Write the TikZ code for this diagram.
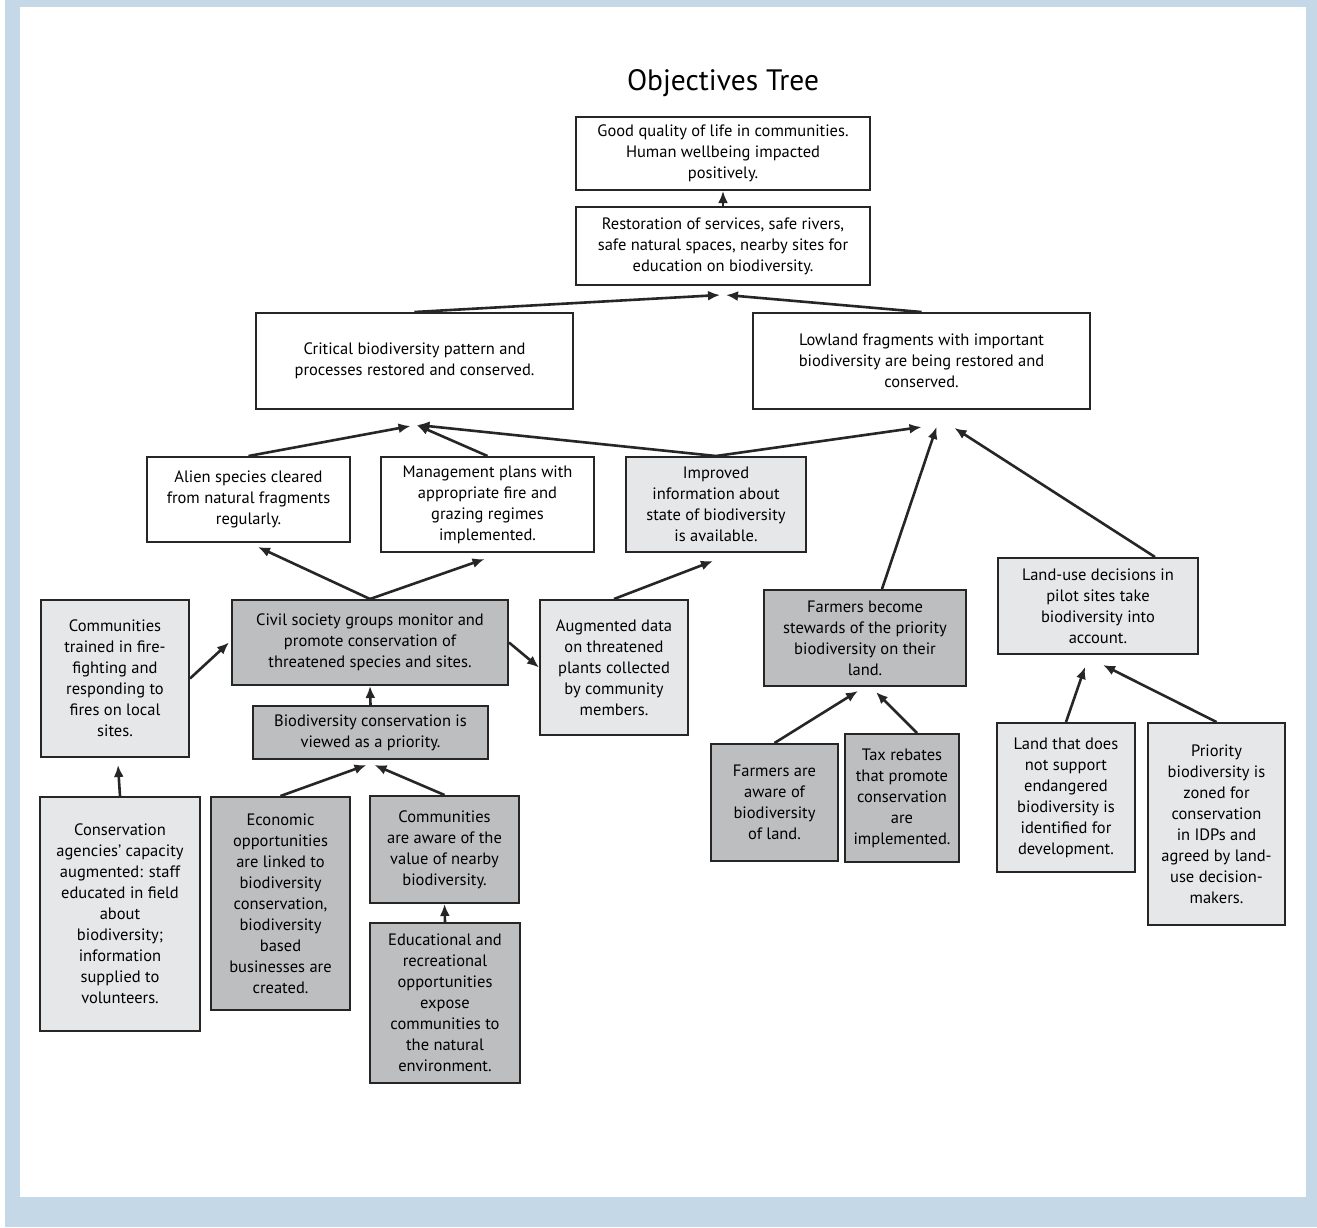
\documentclass[tikz,border=0pt]{standalone}
\usepackage{fontspec}
\setmainfont{PT Sans}
\usetikzlibrary{arrows.meta}
\definecolor{frameblue}{HTML}{C5D8E7}
\definecolor{lightbox}{HTML}{E6E7E8}
\definecolor{darkbox}{HTML}{BCBEC0}
\begin{document}
\begin{tikzpicture}[x=1pt,y=-1pt,
  box/.style={draw=black!85,line width=2pt,align=center,inner sep=0pt,
    font=\fontsize{16.5}{21}\selectfont},
  lite/.style={box,fill=lightbox},
  dark/.style={box,fill=darkbox},
  arr/.style={-{Latex[length=12pt,width=10pt]},line width=2.6pt,draw=black!85}]
\fill[white] (0,0) rectangle (1317,1227);
\fill[frameblue] (5,0) rectangle (1317,1227);
\fill[white] (20,7) rectangle (1306,1197);

\node[font=\fontsize{29.5}{32}\selectfont] (title) at (723,83) {Objectives Tree};

\node[box,minimum width=294pt,minimum height=73pt] (goal) at (723,153.5)
  {Good quality of life in communities.\\Human wellbeing impacted\\positively.};
\node[box,minimum width=294pt,minimum height=78pt] (restore) at (723,246)
  {Restoration of services, safe rivers,\\safe natural spaces, nearby sites for\\education on biodiversity.};
\node[box,minimum width=317pt,minimum height=96pt] (crit) at (414.5,361)
  {Critical biodiversity pattern and\\processes restored and conserved.};
\node[box,minimum width=337pt,minimum height=96pt] (lowland) at (921.5,361)
  {Lowland fragments with important\\biodiversity are being restored and\\conserved.};

\node[box,minimum width=203pt,minimum height=85pt] (alien) at (248.5,499.5)
  {Alien species cleared\\from natural fragments\\regularly.};
\node[box,minimum width=213pt,minimum height=95pt] (mgmt) at (487.5,504.5)
  {Management plans with\\appropriate fire and\\grazing regimes\\implemented.};
\node[lite,minimum width=180pt,minimum height=95pt] (improved) at (716,504.5)
  {Improved\\information about\\state of biodiversity\\is available.};

\node[lite,minimum width=148pt,minimum height=157pt] (trained) at (115,678.5)
  {Communities\\trained in fire-\\fighting and\\responding to\\fires on local\\sites.};
\node[dark,minimum width=276pt,minimum height=85pt] (civil) at (370,642.5)
  {Civil society groups monitor and\\promote conservation of\\threatened species and sites.};
\node[lite,minimum width=148pt,minimum height=135pt] (augmented) at (614,667.5)
  {Augmented data\\on threatened\\plants collected\\by community\\members.};
\node[dark,minimum width=202pt,minimum height=96pt] (stewards) at (865,638)
  {Farmers become\\stewards of the priority\\biodiversity on their\\land.};
\node[lite,minimum width=200pt,minimum height=96pt] (landuse) at (1098,606)
  {Land-use decisions in\\pilot sites take\\biodiversity into\\account.};

\node[dark,minimum width=235pt,minimum height=53pt] (priority) at (370.5,732.5)
  {Biodiversity conservation is\\viewed as a priority.};
\node[lite,minimum width=160pt,minimum height=234pt] (agencies) at (120,914)
  {Conservation\\agencies’ capacity\\augmented: staff\\educated in field\\about\\biodiversity;\\information\\supplied to\\volunteers.};
\node[dark,minimum width=139pt,minimum height=213pt] (economic) at (280.5,903.5)
  {Economic\\opportunities\\are linked to\\biodiversity\\conservation,\\biodiversity\\based\\businesses are\\created.};
\node[dark,minimum width=149pt,minimum height=107pt] (aware) at (444.5,849.5)
  {Communities\\are aware of the\\value of nearby\\biodiversity.};
\node[dark,minimum width=150pt,minimum height=160pt] (educational) at (445,1003)
  {Educational and\\recreational\\opportunities\\expose\\communities to\\the natural\\environment.};

\node[dark,minimum width=127pt,minimum height=117pt] (farmaware) at (774.5,802.5)
  {Farmers are\\aware of\\biodiversity\\of land.};
\node[dark,minimum width=114pt,minimum height=128pt] (tax) at (902,798)
  {Tax rebates\\that promote\\conservation\\are\\implemented.};
\node[lite,minimum width=138pt,minimum height=149pt] (landthat) at (1066,797.5)
  {Land that does\\not support\\endangered\\biodiversity is\\identified for\\development.};
\node[lite,minimum width=137pt,minimum height=202pt] (zoned) at (1216.5,824)
  {Priority\\biodiversity is\\zoned for\\conservation\\in IDPs and\\agreed by land-\\use decision-\\makers.};

\draw[arr] (restore.north) -- (goal.south);
\draw[arr] (crit.north) -- ([shift={(-3,9)}]restore.south);
\draw[arr] (lowland.north) -- ([shift={(3,9)}]restore.south);
\draw[arr] (alien.north) -- ([shift={(-4,16)}]crit.south);
\draw[arr] (mgmt.north) -- ([shift={(2,15)}]crit.south);
\draw[arr] (improved.north) -- ([shift={(3,15)}]crit.south);
\draw[arr] (improved.north) -- ([shift={(0,17)}]lowland.south);
\draw[arr] ([xshift=17pt]stewards.north) -- ([shift={(15,17)}]lowland.south);
\draw[arr] ([xshift=57pt]landuse.north) -- ([shift={(33,18)}]lowland.south);
\draw[arr] (civil.north) -- ([shift={(9.5,4)}]alien.south);
\draw[arr] (civil.north) -- ([shift={(-3,6)}]mgmt.south);
\draw[arr] (augmented.north) -- ([shift={(-3,8)}]improved.south);
\draw[arr] (trained.east) -- ([xshift=-2pt]civil.west);
\draw[arr] (civil.east) -- (augmented.west);
\draw[arr] (priority.north) -- (civil.south);
\draw[arr] (agencies.north) -- ([shift={(3,7)}]trained.south);
\draw[arr] (economic.north) -- ([shift={(-4,5)}]priority.south);
\draw[arr] (aware.north) -- ([shift={(4,5)}]priority.south);
\draw[arr] (educational.north) -- (aware.south);
\draw[arr] (farmaware.north) -- ([shift={(-7,4)}]stewards.south);
\draw[arr] ([xshift=15pt]tax.north) -- ([shift={(11,5)}]stewards.south);
\draw[arr] (landthat.north) -- ([shift={(-13,12)}]landuse.south);
\draw[arr] (zoned.north) -- ([shift={(5,10)}]landuse.south);
\end{tikzpicture}
\end{document}
